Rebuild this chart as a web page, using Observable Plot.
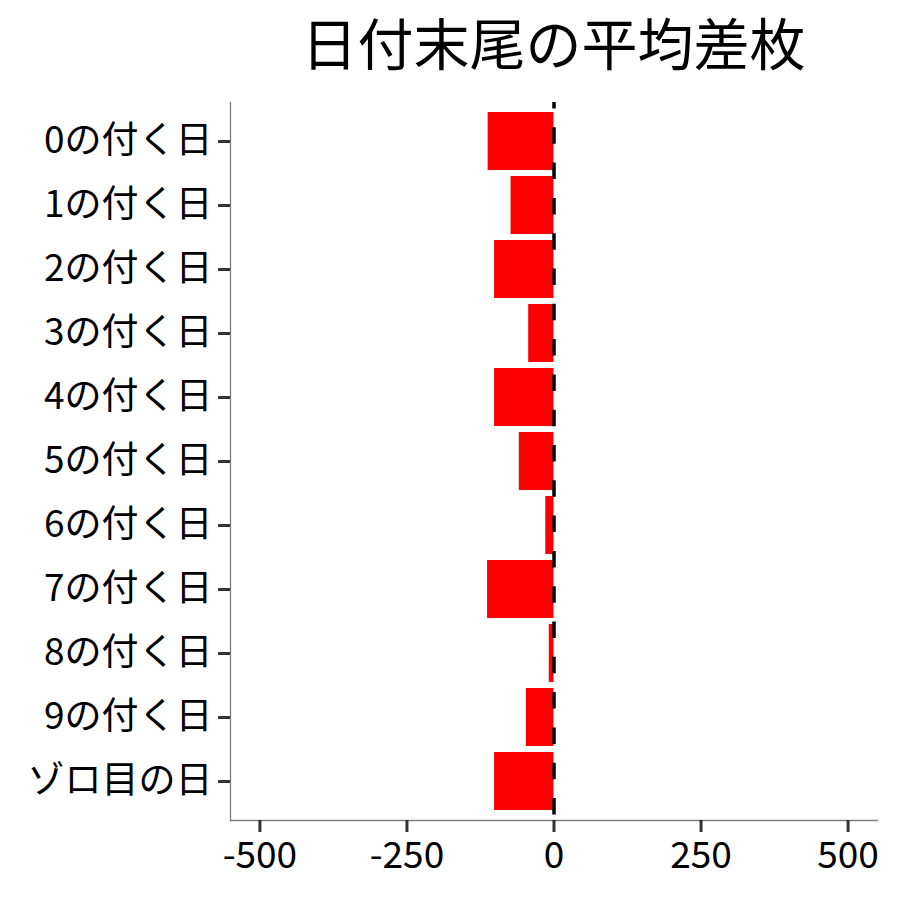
<!DOCTYPE html>
<html>
<head>
<meta charset="utf-8">
<script src="https://cdn.jsdelivr.net/npm/d3@7"></script>
<script src="https://cdn.jsdelivr.net/npm/@observablehq/plot@0.6"></script>
<style>
  html, body { margin: 0; padding: 0; background: #fff; }
  #wrap { position: relative; width: 900px; height: 900px; font-family: "Noto Sans CJK JP", "Noto Sans", sans-serif; }
  #title { position: absolute; left: 230px; width: 647px; top: 0px; text-align: center; font-size: 56px; line-height: 82px; color: #000; }
  #chart { position: absolute; left: 0; top: 0; }
</style>
</head>
<body>
<div id="wrap">
  <div id="chart"></div>
  <div id="title">日付末尾の平均差枚</div>
</div>
<script>
const categories = ["0の付く日","1の付く日","2の付く日","3の付く日","4の付く日","5の付く日","6の付く日","7の付く日","8の付く日","9の付く日","ゾロ目の日"];
const values = [-112, -73, -101, -43, -101, -59, -14, -113, -8, -47, -101];
const xTicks = [-500, -250, 0, 250, 500];

const data = categories.map((c, i) => ({category: c, value: values[i]}));

const chart = Plot.plot({
  width: 900,
  height: 900,
  marginTop: 102,
  marginBottom: 80,
  marginLeft: 230,
  marginRight: 23,
  style: {fontFamily: '"Noto Sans CJK JP", "Noto Sans", sans-serif', background: "#fff", color: "#000"},
  x: {domain: [-550, 550], ticks: xTicks, label: null},
  y: {domain: categories, paddingInner: 0.1, paddingOuter: 0.15, label: null},
  marks: [
    Plot.barX(data, {x: "value", y: "category", fill: "#FF0000"}),
    Plot.ruleX([0], {stroke: "#000", strokeWidth: 3.5, strokeDasharray: "16.5,18.8", strokeDashoffset: 10}),
    Plot.frame({anchor: "left", stroke: "#7f7f7f", strokeWidth: 1.3}),
    Plot.frame({anchor: "bottom", stroke: "#7f7f7f", strokeWidth: 1.3}),
    Plot.axisX({ticks: xTicks, tickSize: 12, tickPadding: 9, fontSize: 37, stroke: "#333", strokeWidth: 3, strokeOpacity: 1, tickFormat: d => String(d), label: null, fill: "#000"}),
    Plot.axisY({tickSize: 12, tickPadding: 6, fontSize: 37, stroke: "#333", strokeWidth: 3, strokeOpacity: 1, label: null, fill: "#000"})
  ]
});
document.getElementById("chart").appendChild(chart);
</script>
</body>
</html>
